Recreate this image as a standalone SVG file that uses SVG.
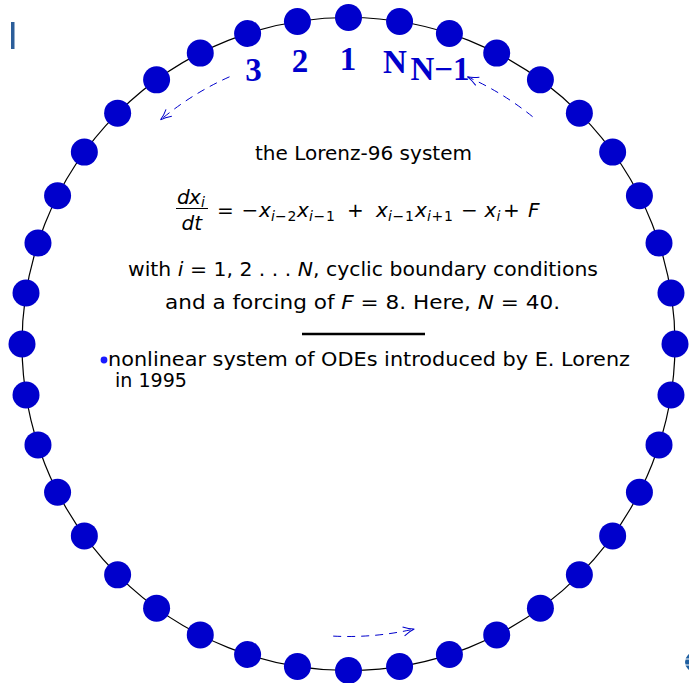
<svg xmlns="http://www.w3.org/2000/svg" width="689" height="683" viewBox="0 0 689 683">
<style>
.body{font-family:"DejaVu Sans","Liberation Sans",sans-serif;font-size:19px;fill:#000}
.m{font-size:20px}
.it{font-style:italic}
.sub{font-size:14px}
.lbl{font-family:"Liberation Serif","Times New Roman",serif;font-weight:bold;font-size:33px;fill:#0000cc;text-anchor:middle}
.dot{fill:#0000cc}
.ring{fill:none;stroke:#000;stroke-width:1.2}
.arc{fill:none;stroke:#0000cc;stroke-width:1;stroke-dasharray:8 6;marker-end:url(#arr)}
</style>
<defs>
<marker id="arr" markerWidth="14" markerHeight="12" refX="12" refY="6" orient="auto" markerUnits="userSpaceOnUse">
<path d="M1 1.5 Q7 5 12 6 Q7 7 1 10.5" fill="none" stroke="#0000cc" stroke-width="1"/>
</marker>
</defs>
<rect width="689" height="683" fill="#fff"/>
<rect x="11" y="22" width="3.5" height="27" fill="#2c5e9a"/>
<g id="logo"><circle cx="695" cy="662" r="10" fill="#1f5fa0"/><path d="M683 659H689M683 665H689" stroke="#fff" stroke-width="1"/></g>
<circle class="ring" cx="348.5" cy="344" r="326.5"/>
<g id="connectors">
<path class="arc" d="M532.6 116.7 A292.5 292.5 0 0 0 467.5 76.8"/>
<path class="arc" d="M229.5 76.8 A292.5 292.5 0 0 0 160.5 119.9"/>
<path class="arc" d="M333.2 636.1 A292.5 292.5 0 0 0 414.3 629.0"/>
</g>
<g id="nodes">
<g id="n0"><circle class="dot" cx="348.5" cy="17.5" r="13.5"/></g>
<g id="n1"><circle class="dot" cx="399.57" cy="21.52" r="13.5"/></g>
<g id="n2"><circle class="dot" cx="449.4" cy="33.48" r="13.5"/></g>
<g id="n3"><circle class="dot" cx="496.73" cy="53.08" r="13.5"/></g>
<g id="n4"><circle class="dot" cx="540.41" cy="79.85" r="13.5"/></g>
<g id="n5"><circle class="dot" cx="579.37" cy="113.13" r="13.5"/></g>
<g id="n6"><circle class="dot" cx="612.65" cy="152.09" r="13.5"/></g>
<g id="n7"><circle class="dot" cx="639.42" cy="195.77" r="13.5"/></g>
<g id="n8"><circle class="dot" cx="659.02" cy="243.1" r="13.5"/></g>
<g id="n9"><circle class="dot" cx="670.98" cy="292.93" r="13.5"/></g>
<g id="n10"><circle class="dot" cx="675" cy="344" r="13.5"/></g>
<g id="n11"><circle class="dot" cx="670.98" cy="395.07" r="13.5"/></g>
<g id="n12"><circle class="dot" cx="659.02" cy="444.9" r="13.5"/></g>
<g id="n13"><circle class="dot" cx="639.42" cy="492.23" r="13.5"/></g>
<g id="n14"><circle class="dot" cx="612.65" cy="535.91" r="13.5"/></g>
<g id="n15"><circle class="dot" cx="579.37" cy="574.87" r="13.5"/></g>
<g id="n16"><circle class="dot" cx="540.41" cy="608.15" r="13.5"/></g>
<g id="n17"><circle class="dot" cx="496.73" cy="634.92" r="13.5"/></g>
<g id="n18"><circle class="dot" cx="449.4" cy="654.52" r="13.5"/></g>
<g id="n19"><circle class="dot" cx="399.57" cy="666.48" r="13.5"/></g>
<g id="n20"><circle class="dot" cx="348.5" cy="670.5" r="13.5"/></g>
<g id="n21"><circle class="dot" cx="297.43" cy="666.48" r="13.5"/></g>
<g id="n22"><circle class="dot" cx="247.6" cy="654.52" r="13.5"/></g>
<g id="n23"><circle class="dot" cx="200.27" cy="634.92" r="13.5"/></g>
<g id="n24"><circle class="dot" cx="156.59" cy="608.15" r="13.5"/></g>
<g id="n25"><circle class="dot" cx="117.63" cy="574.87" r="13.5"/></g>
<g id="n26"><circle class="dot" cx="84.35" cy="535.91" r="13.5"/></g>
<g id="n27"><circle class="dot" cx="57.58" cy="492.23" r="13.5"/></g>
<g id="n28"><circle class="dot" cx="37.98" cy="444.9" r="13.5"/></g>
<g id="n29"><circle class="dot" cx="26.02" cy="395.07" r="13.5"/></g>
<g id="n30"><circle class="dot" cx="22" cy="344" r="13.5"/></g>
<g id="n31"><circle class="dot" cx="26.02" cy="292.93" r="13.5"/></g>
<g id="n32"><circle class="dot" cx="37.98" cy="243.1" r="13.5"/></g>
<g id="n33"><circle class="dot" cx="57.58" cy="195.77" r="13.5"/></g>
<g id="n34"><circle class="dot" cx="84.35" cy="152.09" r="13.5"/></g>
<g id="n35"><circle class="dot" cx="117.63" cy="113.13" r="13.5"/></g>
<g id="n36"><circle class="dot" cx="156.59" cy="79.85" r="13.5"/></g>
<g id="n37"><circle class="dot" cx="200.27" cy="53.08" r="13.5"/></g>
<g id="n38"><circle class="dot" cx="247.6" cy="33.48" r="13.5"/></g>
<g id="n39"><circle class="dot" cx="297.43" cy="21.52" r="13.5"/></g>
</g>
<g id="labels">
<text class="lbl" x="253.5" y="81">3</text>
<text class="lbl" x="300" y="72">2</text>
<text class="lbl" x="348" y="70">1</text>
<text class="lbl" x="395" y="72.5">N</text>
<text class="lbl" x="440" y="80">N−1</text>
</g>
<g id="text">
<text class="body" x="255" y="160" textLength="217" lengthAdjust="spacingAndGlyphs">the Lorenz-96 system</text>
<g id="equation" class="body m">
<text x="177" y="204"><tspan class="it">d</tspan><tspan class="it" x="189">x</tspan><tspan class="it sub" x="201" y="207">i</tspan></text>
<line x1="176" y1="208.5" x2="208" y2="208.5" stroke="#000" stroke-width="1"/>
<text x="181.5" y="230" class="it">dt</text>
<text y="217">
<tspan x="217">=</tspan>
<tspan x="241.5">−</tspan>
<tspan x="259" class="it">x</tspan><tspan x="271" y="221" class="sub it">i</tspan><tspan x="275" y="221" class="sub">−</tspan><tspan x="287.5" y="221" class="sub">2</tspan>
<tspan x="297" y="217" class="it">x</tspan><tspan x="309" y="221" class="sub it">i</tspan><tspan x="313.5" y="221" class="sub">−</tspan><tspan x="326" y="221" class="sub">1</tspan>
<tspan x="347" y="217">+</tspan>
<tspan x="376" y="217" class="it">x</tspan><tspan x="388" y="221" class="sub it">i</tspan><tspan x="392.5" y="221" class="sub">−</tspan><tspan x="405" y="221" class="sub">1</tspan>
<tspan x="415" y="217" class="it">x</tspan><tspan x="427" y="221" class="sub it">i</tspan><tspan x="431.5" y="221" class="sub">+</tspan><tspan x="444" y="221" class="sub">1</tspan>
<tspan x="461" y="217">−</tspan>
<tspan x="484.5" y="217" class="it">x</tspan><tspan x="496.5" y="221" class="sub it">i</tspan>
<tspan x="503" y="217">+</tspan>
<tspan x="528" y="217" class="it">F</tspan>
</text>
</g>
<text class="body" x="128" y="276" textLength="470" lengthAdjust="spacingAndGlyphs">with <tspan class="it">i</tspan> = 1, 2 . . . <tspan class="it">N</tspan>, cyclic boundary conditions</text>
<text class="body" x="165" y="309" textLength="395" lengthAdjust="spacingAndGlyphs">and a forcing of <tspan class="it">F</tspan> = 8. Here, <tspan class="it">N</tspan> = 40.</text>
<line x1="302" y1="334" x2="425" y2="334" stroke="#000" stroke-width="2.5"/>
<circle cx="104" cy="360" r="3.4" fill="#1a1aff"/>
<text class="body" x="108" y="366" textLength="522" lengthAdjust="spacingAndGlyphs">nonlinear system of ODEs introduced by E. Lorenz</text>
<text class="body" x="115" y="387" textLength="72" lengthAdjust="spacingAndGlyphs">in 1995</text>
</g>
</svg>
